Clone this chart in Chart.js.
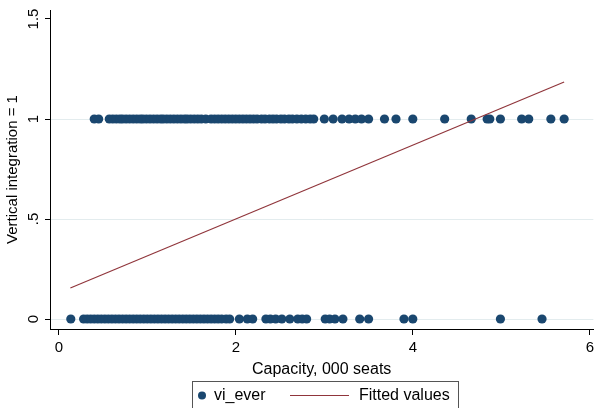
<!DOCTYPE html>
<html>
<head>
<meta charset="utf-8">
<script src="https://cdn.jsdelivr.net/npm/chart.js@4/dist/chart.umd.min.js"></script>
<style>
html,body{margin:0;padding:0;background:#fff;}
#wrap{width:598px;height:408px;position:relative;}
</style>
</head>
<body>
<div id="wrap"><canvas id="c" width="598" height="408"></canvas></div>
<script>
// Capacity (000 seats) of observations with vi_ever = 1
const capacityVi1 = [0.40,0.45,0.57,0.61,0.65,0.69,0.72,0.76,0.80,0.84,0.88,0.92,0.95,0.99,1.03,1.07,1.11,1.15,1.18,1.22,1.26,1.30,1.34,1.38,1.42,1.45,1.49,1.53,1.57,1.61,1.66,1.72,1.76,1.80,1.84,1.88,1.92,1.96,2.00,2.04,2.08,2.12,2.16,2.20,2.24,2.29,2.33,2.38,2.42,2.46,2.51,2.55,2.60,2.64,2.69,2.74,2.79,2.84,2.88,3.00,3.10,3.20,3.28,3.35,3.42,3.50,3.68,3.81,4.00,4.36,4.66,4.84,4.87,4.99,5.23,5.31,5.56,5.71];
// Capacity (000 seats) of observations with vi_ever = 0
const capacityVi0 = [0.135,0.28,0.32,0.36,0.40,0.44,0.48,0.52,0.56,0.60,0.64,0.68,0.72,0.76,0.80,0.84,0.88,0.92,0.96,1.00,1.04,1.08,1.12,1.16,1.20,1.24,1.28,1.32,1.36,1.40,1.44,1.48,1.52,1.56,1.60,1.64,1.68,1.72,1.76,1.80,1.84,1.89,1.93,2.04,2.13,2.19,2.34,2.39,2.45,2.52,2.61,2.70,2.75,2.80,3.01,3.06,3.12,3.21,3.40,3.50,3.90,4.00,4.99,5.46];
// Fitted values line endpoints
const fittedX = [0.13, 5.71];
const fittedY = [0.155, 1.185];
// Tick labels
const xTicks = [0, 2, 4, 6];
const yTickValues = [0, 0.5, 1, 1.5];
const yTickLabels = ['0', '.5', '1', '1.5'];
const seriesNames = ['vi_ever', 'Fitted values'];

const navy = '#1a476f';
const maroon = '#90353b';
const FONT = '"Liberation Sans", Arial, sans-serif';

const scatterPts = capacityVi1.map(x => ({x: x, y: 1})).concat(capacityVi0.map(x => ({x: x, y: 0})));
const linePts = fittedX.map((x, i) => ({x: x, y: fittedY[i]}));

const yLabelPlugin = {
  id: 'yLabels',
  afterDraw(chart) {
    const ctx = chart.ctx;
    const ys = chart.scales.y;
    ctx.save();
    ctx.fillStyle = '#000';
    ctx.font = '15px ' + FONT;
    ctx.textAlign = 'center';
    ctx.textBaseline = 'middle';
    yTickValues.forEach((v, i) => {
      const py = ys.getPixelForValue(v);
      ctx.save();
      ctx.translate(34, py);
      ctx.rotate(-Math.PI / 2);
      ctx.fillText(yTickLabels[i], 0, 0);
      ctx.restore();
    });
    // legend
    const lx = 192, ly = 381.5, lw = 266, lh = 40;
    ctx.strokeStyle = '#555';
    ctx.lineWidth = 1;
    ctx.strokeRect(lx + 0.5, ly, lw, lh);
    ctx.fillStyle = navy;
    ctx.beginPath();
    ctx.arc(202, 395.5, 4, 0, Math.PI * 2);
    ctx.fill();
    ctx.fillStyle = '#000';
    ctx.font = '16px ' + FONT;
    ctx.textAlign = 'left';
    ctx.textBaseline = 'middle';
    ctx.fillText(seriesNames[0], 214, 396);
    ctx.strokeStyle = maroon;
    ctx.lineWidth = 1.2;
    ctx.beginPath();
    ctx.moveTo(290, 395.5);
    ctx.lineTo(349, 395.5);
    ctx.stroke();
    ctx.fillText(seriesNames[1], 359, 396);
    ctx.restore();
  }
};

new Chart(document.getElementById('c'), {
  type: 'scatter',
  data: {
    datasets: [
      {
        label: seriesNames[1],
        type: 'line',
        data: linePts,
        borderColor: maroon,
        borderWidth: 1.2,
        pointRadius: 0,
        fill: false,
        order: 0
      },
      {
        label: seriesNames[0],
        data: scatterPts,
        backgroundColor: navy,
        borderColor: navy,
        borderWidth: 0,
        pointRadius: 4.6,
        order: 1
      }
    ]
  },
  options: {
    responsive: false,
    animation: false,
    devicePixelRatio: 1,
    layout: {padding: {top: 10, right: 1, bottom: 29, left: 0}},
    plugins: {legend: {display: false}, tooltip: {enabled: false}},
    scales: {
      x: {
        type: 'linear',
        min: -0.1,
        max: 6.04,
        afterBuildTicks: s => { s.ticks = xTicks.map(v => ({value: v})); },
        afterFit: s => { s.height = 50; },
        grid: {drawOnChartArea: false, tickLength: 6, tickColor: '#000', lineWidth: 1},
        border: {color: '#000', width: 1},
        ticks: {color: '#000', font: {family: FONT, size: 15}, padding: 4, maxRotation: 0},
        title: {display: true, text: 'Capacity, 000 seats', color: '#000', font: {family: FONT, size: 16}, padding: 0}
      },
      y: {
        type: 'linear',
        min: -0.05,
        max: 1.545,
        afterBuildTicks: s => { s.ticks = yTickValues.map(v => ({value: v})); },
        afterFit: s => { s.width = 50; },
        grid: {
          drawOnChartArea: true,
          color: ctx => (ctx.tick && ctx.tick.value === 1.5) ? 'rgba(0,0,0,0)' : '#e3ecee',
          tickColor: '#000',
          tickLength: 5,
          lineWidth: 1
        },
        border: {color: '#000', width: 1},
        ticks: {display: false},
        title: {display: true, text: 'Vertical integration = 1', color: '#000', font: {family: FONT, size: 15}, padding: {top: 4, bottom: 0}}
      }
    }
  },
  plugins: [yLabelPlugin]
});
</script>
</body>
</html>
